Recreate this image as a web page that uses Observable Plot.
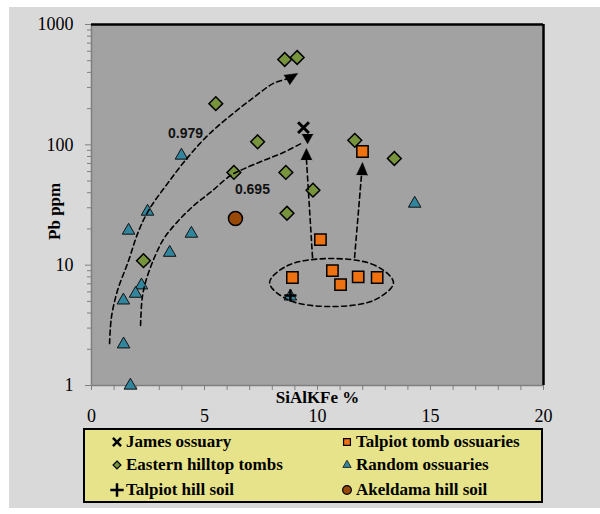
<!DOCTYPE html>
<html><head><meta charset="utf-8">
<script src="https://cdn.jsdelivr.net/npm/d3@7"></script>
<script src="https://cdn.jsdelivr.net/npm/@observablehq/plot@0.6"></script>
<style>
html,body{margin:0;padding:0;background:#fff;}
body{width:600px;height:514px;position:relative;overflow:hidden;font-family:"Liberation Serif","Times New Roman","DejaVu Serif",serif;}
#frame{position:absolute;left:9px;top:7px;width:591px;height:501px;background:#d9d9d9;}
#chart{position:absolute;left:0;top:0;}
#legend{position:absolute;left:83px;top:428px;width:456px;height:71px;background:#e6e38a;border:2px solid #000;}
.item{position:absolute;height:20px;display:flex;align-items:center;font-weight:bold;font-size:17px;white-space:nowrap;}
.item svg{margin-right:2px;}
</style>
</head><body>
<div id="frame"></div>
<div id="chart"></div>
<div id="legend"></div>
<script>
// ---- Series values ----
const seriesNames = ["James ossuary","Talpiot tomb ossuaries","Eastern hilltop tombs","Random ossuaries","Talpiot hill soil","Akeldama hill soil"];

const jamesX = [9.38];
const jamesY = [139];

const talpiotTombX = [11.99, 10.13, 8.89, 10.66, 11.02, 11.8, 12.64];
const talpiotTombY = [88, 16.3, 7.9, 9.0, 6.9, 8.0, 7.9];

const easternX = [8.55, 9.1, 5.5, 7.35, 6.3, 8.6, 11.65, 13.4, 9.8, 8.65, 2.3];
const easternY = [512, 532, 220, 106, 59, 59, 109, 77, 42, 27, 10.9];

const randomX = [3.98, 2.48, 1.64, 4.42, 3.46, 2.21, 1.95, 1.41, 1.42, 1.72, 14.3, 8.8];
const randomY = [81.5, 27.9, 19.4, 18.3, 12.7, 6.8, 5.8, 5.1, 2.2, 1.0, 32.5, 5.5];

const talpiotSoilX = [8.8];
const talpiotSoilY = [5.6];

const akeldamaX = [6.37];
const akeldamaY = [24.4];

// ---- Annotation paths (data coordinates) ----
const curve1X = [0.80, 0.88, 1.15, 1.64, 2.04, 2.52, 3.36, 4.25, 5.13, 6.15, 7.17, 8.05, 8.7];
const curve1Y = [2.23, 3.67, 6.15, 10.9, 18.3, 28.4, 47.6, 78.3, 119, 175, 247, 324, 355];
const curve2X = [2.17, 2.24, 2.39, 2.76, 3.20, 3.79, 4.53, 5.27, 6.15, 6.74, 7.62, 8.51, 9.25];
const curve2Y = [3.15, 5.25, 7.21, 11.3, 16.6, 22.8, 31.3, 40.4, 55.6, 63.1, 74.1, 86.7, 102];
const vert1X = [9.78, 9.51];
const vert1Y = [11.6, 76];
const vert2X = [11.64, 11.95];
const vert2Y = [11.6, 57];
const ellipseX = [13.36, 12.56, 10.62, 8.68, 7.88, 8.68, 10.62, 12.56];
const ellipseY = [7.16, 9.93, 11.35, 9.93, 7.16, 5.17, 4.53, 5.17];
// arrow tips
const arrowX = [9.12, 9.56, 9.51, 11.99];
const arrowY = [392, 102, 93.1, 71.3];
const arrowAngle = [59, 180, 0, 2];
const arrowLen = [11, 8.5, 10, 11];
const labelText = ["0.979", "0.695"];
const labelX = [4.16, 7.12];
const labelY = [124, 42.5];

// ---- Axis ticks ----
const yMajorTicks = [1, 10, 100, 1000];
const yMinorTicks = [1, 10, 100].flatMap(d => [2,3,4,5,6,7,8,9].map(k => k * d));
const xTicks = d3.range(0, 21);
const xLabelTicks = [0, 5, 10, 15, 20];

const zip = (xs, ys) => xs.map((x, i) => ({x, y: ys[i]}));

const colors = {
  talpiot: "#ef7212",
  eastern: "#77933c",
  random: "#31859c",
  akeldama: "#984807"
};

const dash = "5,3.5";

const chart = Plot.plot({
  width: 600,
  height: 425,
  marginLeft: 91,
  marginRight: 57,
  marginTop: 24,
  marginBottom: 40,
  style: {background: "transparent", fontFamily: "'Liberation Serif', 'Times New Roman', 'DejaVu Serif', serif", fontSize: "18px", color: "#000", overflow: "visible"},
  x: {domain: [0, 20]},
  y: {type: "log", domain: [1, 1000]},
  marks: [
    Plot.frame({fill: "#a2a2a2", stroke: null}),
    Plot.axisY({ticks: yMinorTicks, tickFormat: () => "", tickSize: 4, stroke: "#7f7f7f", label: null}),
    Plot.axisY({ticks: yMajorTicks, tickFormat: d => String(d), tickSize: 6, tickPadding: 12, stroke: "#7f7f7f", fill: "#000", fontSize: 18, label: null}),
    Plot.axisX({ticks: xTicks, tickFormat: d => xLabelTicks.includes(d) ? String(d) : "", tickSize: 5, tickPadding: 19, stroke: "#7f7f7f", fill: "#000", fontSize: 18, label: null}),
    Plot.ruleX([0], {stroke: "#7f7f7f", strokeWidth: 1.5}),
    Plot.ruleY([1], {stroke: "#7f7f7f", strokeWidth: 1.5}),
    Plot.ruleY([1000], {stroke: "#000", strokeWidth: 2.5}),
    Plot.ruleX([20], {stroke: "#000", strokeWidth: 2.5}),
    Plot.text(["SiAlKFe %"], {frameAnchor: "bottom", dy: 12, fontWeight: "bold", fontSize: 17, lineAnchor: "middle"}),
    Plot.text(["Pb ppm"], {x: () => -1.65, y: () => 28, rotate: -90, fontWeight: "bold", fontSize: 17, lineAnchor: "middle"}),
    // series
    Plot.dot(zip(jamesX, jamesY), {x: "x", y: "y", symbol: "times", r: 5, stroke: "#000", strokeWidth: 3, fill: "none"}),
    Plot.dot(zip(easternX, easternY), {x: "x", y: "y", symbol: "diamond2", r: 6.2, fill: colors.eastern, stroke: "#000", strokeWidth: 1.5}),
    Plot.dot(zip(talpiotTombX, talpiotTombY), {x: "x", y: "y", symbol: "square2", r: 7.2, fill: colors.talpiot, stroke: "#000", strokeWidth: 1.5}),
    Plot.dot(zip(randomX, randomY), {x: "x", y: "y", symbol: "triangle2", r: 6, fill: colors.random, stroke: "#111", strokeWidth: 1}),
    Plot.dot(zip(talpiotSoilX, talpiotSoilY), {x: "x", y: "y", symbol: "plus", r: 4, stroke: "#000", strokeWidth: 2.5, fill: "none"}),
    Plot.dot(zip(akeldamaX, akeldamaY), {x: "x", y: "y", symbol: "circle", r: 7, fill: colors.akeldama, stroke: "#000", strokeWidth: 1.5}),
    // annotations
    Plot.line(zip(curve1X, curve1Y), {x: "x", y: "y", curve: "catmull-rom", stroke: "#000", strokeWidth: 1.6, strokeDasharray: dash}),
    Plot.line(zip(curve2X, curve2Y), {x: "x", y: "y", curve: "catmull-rom", stroke: "#000", strokeWidth: 1.6, strokeDasharray: dash}),
    Plot.line(zip(vert1X, vert1Y), {x: "x", y: "y", stroke: "#000", strokeWidth: 1.6, strokeDasharray: dash}),
    Plot.line(zip(vert2X, vert2Y), {x: "x", y: "y", stroke: "#000", strokeWidth: 1.6, strokeDasharray: dash}),
    Plot.line(zip(ellipseX, ellipseY), {x: "x", y: "y", curve: "catmull-rom-closed", stroke: "#000", strokeWidth: 1.6, strokeDasharray: dash}),
    Plot.vector(arrowX.map((x, i) => ({x, y: arrowY[i], a: arrowAngle[i], l: arrowLen[i]})), {x: "x", y: "y", rotate: "a", length: "l", anchor: "end", shape: "spike", r: 5.5, fill: "#000", stroke: "#000", strokeWidth: 0.5}),
    Plot.text(labelText.map((t, i) => ({t, x: labelX[i], y: labelY[i]})), {x: "x", y: "y", text: "t", fontFamily: "'Liberation Sans', Arial, sans-serif", fontWeight: "bold", fontSize: 14, fill: "#111"})
  ]
});
document.getElementById("chart").appendChild(chart);

// ---- Legend ----
const legendSpec = [
  {name: seriesNames[0], sym: d3.symbolTimes, size: 45, fill: "none", stroke: "#000", sw: 2.5, col: 0, row: 0},
  {name: seriesNames[1], sym: d3.symbolSquare2, size: 60, fill: colors.talpiot, stroke: "#000", sw: 1.2, col: 1, row: 0},
  {name: seriesNames[2], sym: d3.symbolDiamond2, size: 40, fill: colors.eastern, stroke: "#000", sw: 1.2, col: 0, row: 1},
  {name: seriesNames[3], sym: d3.symbolTriangle2, size: 50, fill: colors.random, stroke: "#111", sw: 0.8, col: 1, row: 1},
  {name: seriesNames[4], sym: d3.symbolPlus, size: 60, fill: "none", stroke: "#000", sw: 2.5, col: 0, row: 2},
  {name: seriesNames[5], sym: d3.symbolCircle, size: 60, fill: colors.akeldama, stroke: "#000", sw: 1.2, col: 1, row: 2}
];
const colLeft = [25, 255];
const rowTop = [2, 25, 50];
const legend = d3.select("#legend");
for (const s of legendSpec) {
  const item = legend.append("div").attr("class", "item")
    .style("left", colLeft[s.col] + "px").style("top", rowTop[s.row] + "px");
  const svg = item.append("svg").attr("width", 14).attr("height", 14);
  svg.append("path").attr("transform", "translate(7,7)")
    .attr("d", d3.symbol(s.sym, s.size)())
    .attr("fill", s.fill).attr("stroke", s.stroke).attr("stroke-width", s.sw);
  item.append("span").text(s.name);
}
</script>
</body></html>
